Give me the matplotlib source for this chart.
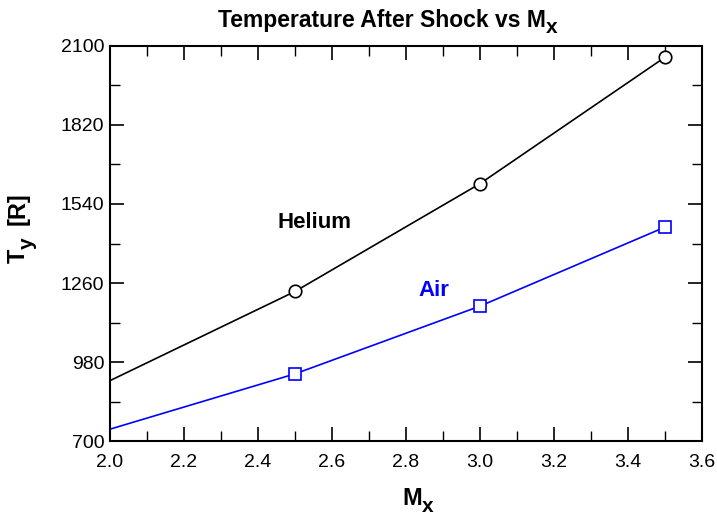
import matplotlib
matplotlib.use("Agg")
import matplotlib.pyplot as plt

plt.rcParams['font.family'] = ['Liberation Sans', 'DejaVu Sans']

# Mach number before the shock
mach = [2.0, 2.5, 3.0, 3.5]
# temperature after the shock [R]
t_helium = [914, 1230, 1612, 2060]
t_air = [742, 938, 1178, 1458]

x_ticks = [2.0, 2.2, 2.4, 2.6, 2.8, 3.0, 3.2, 3.4, 3.6]
y_ticks = [700, 980, 1260, 1540, 1820, 2100]

fig = plt.figure(figsize=(7.17, 5.16), dpi=100)
ax = fig.add_axes([0.1534, 0.1453, 0.8256, 0.7656])

ax.plot(mach, t_helium, color="black", lw=1.2, marker="o", ms=9,
        mfc="white", mec="black", mew=1.2, markevery=[1, 2, 3])
ax.plot(mach, t_air, color="#0000ff", lw=1.2, marker="s", ms=9,
        mfc="white", mec="#0000ff", mew=1.2, markevery=[1, 2, 3])

ax.text(2.554, 1476, "Helium", fontsize=16, fontweight="bold", color="black",
        ha="center", va="center")
ax.text(2.876, 1235, "Air", fontsize=16, fontweight="bold", color="#0000ff",
        ha="center", va="center")

ax.set_xlim(2.0, 3.6)
ax.set_ylim(700, 2100)
ax.set_xticks(x_ticks)
ax.set_xticks([2.1, 2.3, 2.5, 2.7, 2.9, 3.1, 3.3, 3.5], minor=True)
ax.set_yticks(y_ticks)
ax.set_yticks([840, 1120, 1400, 1680, 1960], minor=True)
ax.set_xticklabels(["%.1f" % v for v in x_ticks])
ax.tick_params(which="both", direction="in", top=True, right=True, labelsize=14)
ax.tick_params(which="major", length=10, width=1.2)
ax.tick_params(which="minor", length=7, width=1.0)
ax.tick_params(axis="x", pad=9)
ax.tick_params(axis="y", pad=4)
for s in ax.spines.values():
    s.set_linewidth(1.5)

# title and axis labels with a full size subscript, like the original
t = fig.text(218, 489, "Temperature After Shock vs M", transform=None,
             fontsize=16.5, fontweight="bold", ha="left", va="baseline")
ax.annotate("x", xy=(1.0, 483), xycoords=(t, "figure pixels"),
            fontsize=15, fontweight="bold", ha="left", va="baseline")
m = fig.text(402, 11, "M", transform=None, fontsize=17, fontweight="bold",
             ha="left", va="baseline")
ax.annotate("x", xy=(1.0, 4), xycoords=(m, "figure pixels"),
            fontsize=15, fontweight="bold", ha="left", va="baseline")

ty = fig.text(25, 253, "T", transform=None, fontsize=17, fontweight="bold",
              rotation=90, rotation_mode="anchor", ha="left", va="baseline")
sub = ax.annotate("y", xy=(33, 1.0), xycoords=("figure pixels", ty),
                  fontsize=15, fontweight="bold", rotation=90,
                  rotation_mode="anchor", ha="left", va="baseline")
ax.annotate("[R]", xy=(25, 1.0), xycoords=("figure pixels", sub),
            xytext=(0, 12), textcoords="offset pixels",
            fontsize=17, fontweight="bold", rotation=90,
            rotation_mode="anchor", ha="left", va="baseline")

fig.savefig("out.png", dpi=100)
